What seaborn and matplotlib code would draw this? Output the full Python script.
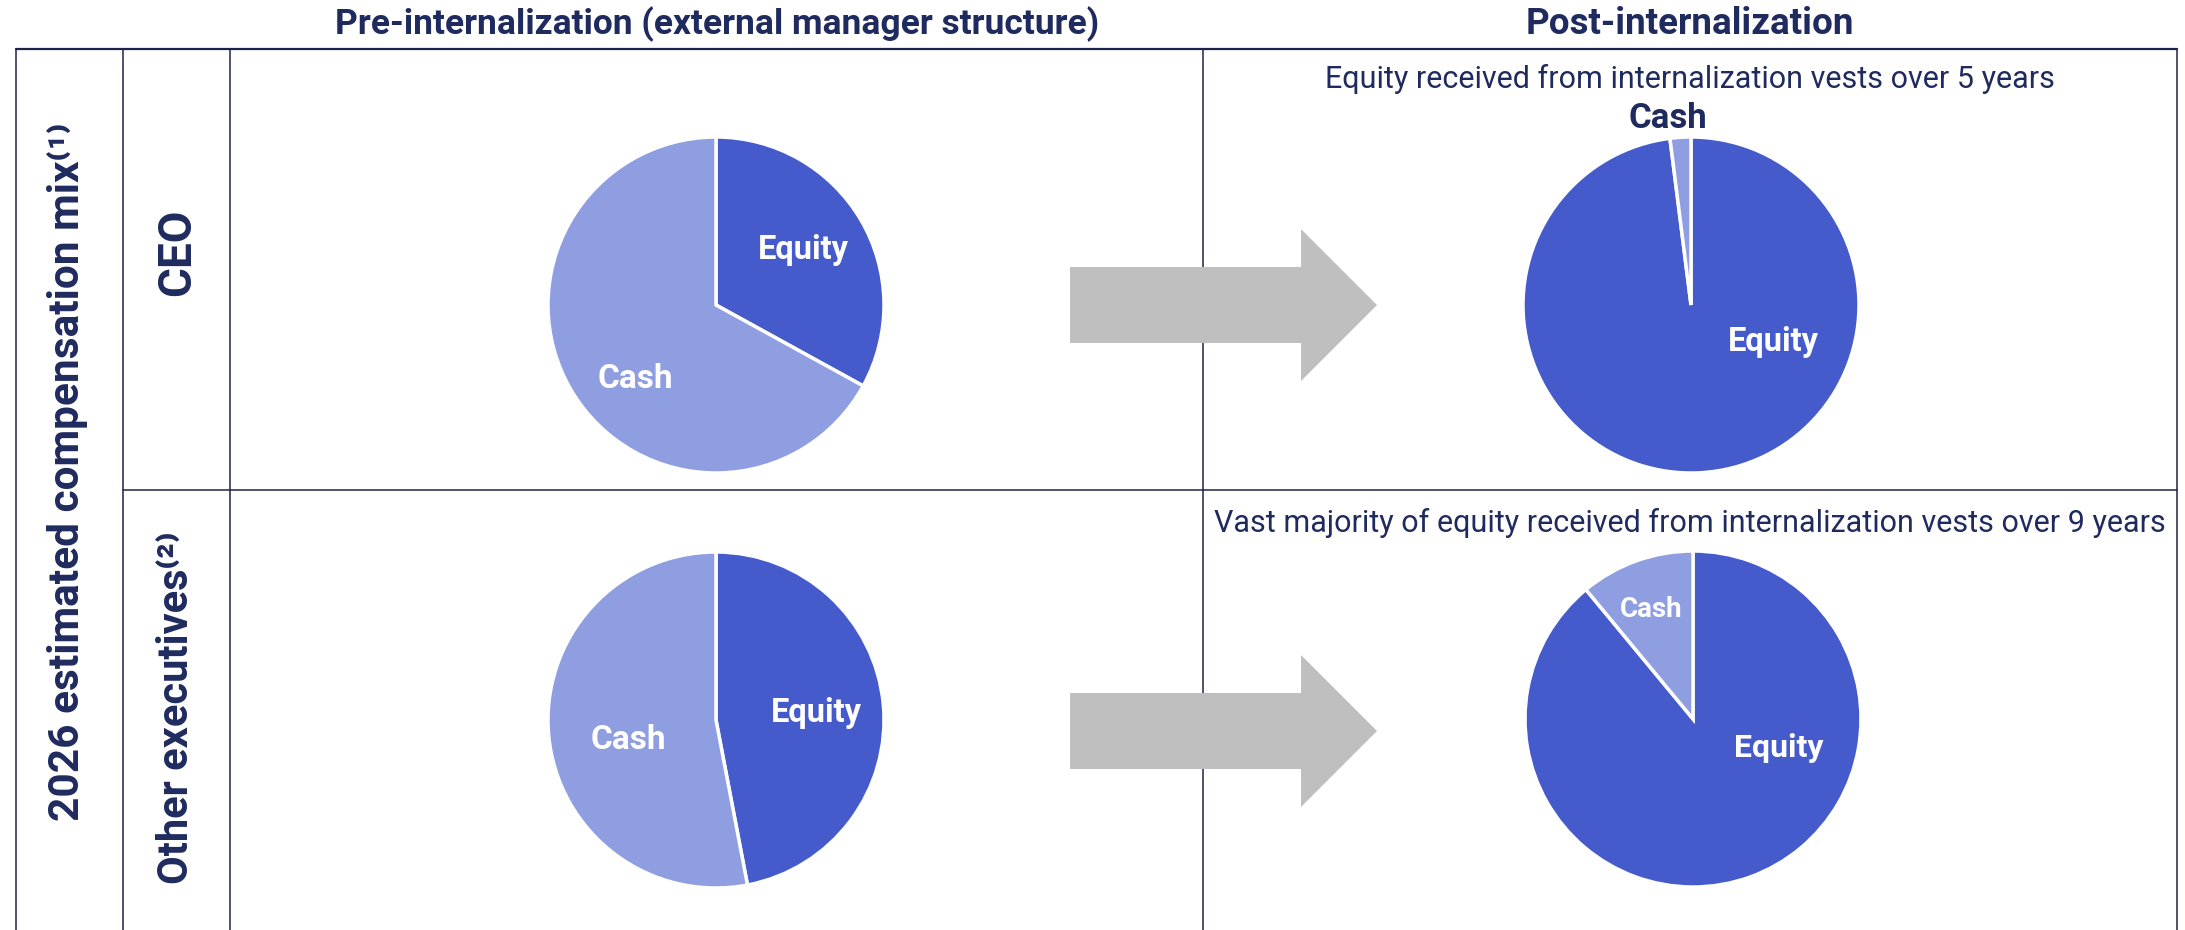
import matplotlib.pyplot as plt
import seaborn as sns
from matplotlib.patches import Polygon

# canvas size in pixels (dpi 100)
W, H = 2185, 930

# --- data ---
roles = ['CEO', 'Other executives⁽²⁾']
slice_names = ['Equity', 'Cash']
pre_equity = [33, 47]
pre_cash = [67, 53]
post_equity = [98, 89]
post_cash = [2, 11]
col_titles = ['Pre-internalization (external manager structure)', 'Post-internalization']
post_notes = ['Equity received from internalization vests over 5 years',
              'Vast majority of equity received from internalization vests over 9 years']
row_title = '2026 estimated compensation mix⁽¹⁾'

# --- style ---
sns.set_theme(style='white')
plt.rcParams['font.family'] = ['Roboto', 'DejaVu Sans']
NAVY = '#1f2a5e'
LINE = '#1c2347'
EQ_COL = '#455bcc'
CASH_COL = '#8f9ee0'
ARROW = '#bfbfbf'

fig = plt.figure(figsize=(W / 100, H / 100), dpi=100)
bg = fig.add_axes([0, 0, 1, 1])
bg.set_xlim(0, W)
bg.set_ylim(H, 0)
bg.axis('off')

# table grid
x_left, x_c1, x_c2, x_mid, x_right = 16, 123, 230, 1203, 2177
y_top, y_div = 49, 490
bg.plot([x_left, x_right], [y_top, y_top], color=LINE, lw=1.6)
for x in [x_left, x_c1, x_c2, x_mid, x_right]:
    bg.plot([x, x], [y_top, H], color=LINE, lw=1.1)
bg.plot([x_c1, x_right], [y_div, y_div], color=LINE, lw=1.1)

# column headers
bg.text(717, 24, col_titles[0], ha='center', va='center', fontsize=25.5,
        fontweight='bold', color=NAVY)
bg.text(1690, 24, col_titles[1], ha='center', va='center', fontsize=26.5,
        fontweight='bold', color=NAVY)

# row headers
bg.text(68, 472, row_title, rotation=90, ha='center', va='center', fontsize=30.5,
        fontweight='bold', color=NAVY)
row_y = [252, 708]
role_size = [33, 30]
for role, y, fs in zip(roles, row_y, role_size):
    bg.text(177, y, role, rotation=90, ha='center', va='center', fontsize=fs,
            fontweight='bold', color=NAVY)

# notes above post pies
note_y = [79, 523]
for note, y in zip(post_notes, note_y):
    bg.text(1690, y, note, ha='center', va='center', fontsize=22, color=NAVY)

# arrows between pies
arrow_y = [305, 731]
for cy in arrow_y:
    pts = [(1070, cy - 38), (1301, cy - 38), (1301, cy - 76), (1377, cy),
           (1301, cy + 76), (1301, cy + 38), (1070, cy + 38)]
    bg.add_patch(Polygon(pts, closed=True, facecolor=ARROW, edgecolor='none', zorder=5))

# pies
R = 168
pie_specs = [
    # center, values, label positions (relative to radius), label colours, label sizes
    ((716, 305), [pre_equity[0], pre_cash[0]], [(0.52, 0.33), (-0.48, -0.44)],
     ['white', 'white'], [23.5, 24]),
    ((716, 720), [pre_equity[1], pre_cash[1]], [(0.60, 0.04), (-0.52, -0.12)],
     ['white', 'white'], [23.5, 24]),
    ((1691, 305), [post_equity[0], post_cash[0]], [(0.49, -0.22), (-0.14, 1.11)],
     ['white', NAVY], [23.5, 25]),
    ((1693, 719), [post_equity[1], post_cash[1]], [(0.51, -0.17), (-0.25, 0.65)],
     ['white', 'white'], [23, 20]),
]

for (cx, cy), vals, lab_pos, lab_cols, lab_fs in pie_specs:
    ax = fig.add_axes([(cx - R) / W, 1 - (cy + R) / H, 2 * R / W, 2 * R / H])
    ax.pie(vals, colors=[EQ_COL, CASH_COL], startangle=90, counterclock=False,
           wedgeprops=dict(edgecolor='white', linewidth=2.5))
    ax.set_xlim(-1, 1)
    ax.set_ylim(-1, 1)
    ax.axis('off')
    for name, (lx, ly), col, fs in zip(slice_names, lab_pos, lab_cols, lab_fs):
        ax.text(lx, ly, name, ha='center', va='center', fontsize=fs,
                fontweight='bold', color=col, clip_on=False)

fig.savefig('out.png', dpi=100)
